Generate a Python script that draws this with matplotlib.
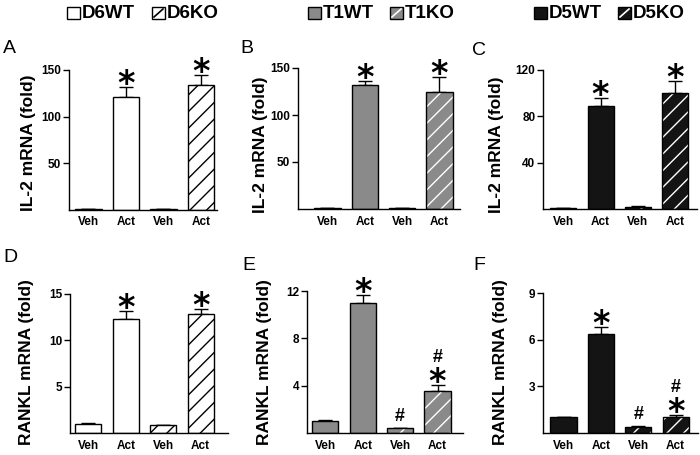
import numpy as np
import matplotlib
matplotlib.use('Agg')
import matplotlib.pyplot as plt
from matplotlib.patches import Rectangle
from matplotlib.lines import Line2D

plt.rcParams['font.family'] = ['Liberation Sans', 'DejaVu Sans']
plt.rcParams['hatch.linewidth'] = 1.0

W, H = 700, 455

conditions = ['Veh', 'Act', 'Veh', 'Act']

# IL-2 mRNA (fold)
il2_d6 = [0.8, 121, 0.9, 134]
il2_d6_err = [0.1, 11, 0.1, 11]
il2_t1 = [1.0, 132, 1.0, 124.5]
il2_t1_err = [0.1, 4.5, 0.1, 16]
il2_d5 = [1.0, 89, 2.0, 100.5]
il2_d5_err = [0.1, 7, 0.3, 10]

# RANKL mRNA (fold)
rankl_d6 = [1.0, 12.3, 0.85, 12.8]
rankl_d6_err = [0.1, 0.9, 0.05, 0.6]
rankl_t1 = [1.04, 11.0, 0.4, 3.52]
rankl_t1_err = [0.05, 0.65, 0.03, 0.55]
rankl_d5 = [1.0, 6.36, 0.4, 1.0]
rankl_d5_err = [0.05, 0.47, 0.03, 0.15]

# significance marks
marks_plain = ['', '*', '', '*']
marks_ko = ['', '*', '#', '#*']

legend_labels = [('D6WT', 'D6KO'), ('T1WT', 'T1KO'), ('D5WT', 'D5KO')]
strain_colors = ['white', '#8a8a8a', '#141414']
hatch_colors = ['black', 'white', 'white']

STAR_FS = 24
STAR_FONT = ['DejaVu Sans']

fig = plt.figure(figsize=(7, 4.55), dpi=100)


def px_rect(l, t, r, b):
    return [l / W, (H - b) / H, (r - l) / W, (b - t) / H]


def draw_panel(rect, xlim, vals, errs, marks, face, hcol, ylabel, ymax, ticks, lab_xy, letter, let_xy):
    ax = fig.add_axes(px_rect(*rect))
    x = np.arange(len(vals))
    wt = [0, 1]
    ko = [2, 3]
    ax.bar(x[wt], np.array(vals)[wt], width=0.7, color=face, edgecolor='black', linewidth=1, zorder=2)
    # hatched KO bars: hatch layer first, then black outline
    ax.bar(x[ko], np.array(vals)[ko], width=0.7, color=face, edgecolor=hcol, hatch='//', linewidth=0, zorder=2)
    ax.bar(x[ko], np.array(vals)[ko], width=0.7, color='none', edgecolor='black', linewidth=1, zorder=3)
    ax.errorbar(x, vals, yerr=[np.zeros(len(errs)), errs], fmt='none', ecolor='black',
                elinewidth=1, capsize=4.7, capthick=1, zorder=1)
    for xi, v, e, m in zip(x, vals, errs, marks):
        top = v + e
        if '*' in m:
            ax.annotate('*', xy=(xi, top), xytext=(0, 6 * 0.72 - 0.40 * STAR_FS), textcoords='offset points',
                        ha='center', va='baseline', fontsize=STAR_FS, fontweight='bold', family=STAR_FONT)
            if '#' in m:
                ax.annotate('#', xy=(xi, top), xytext=(0, 23 * 0.72), textcoords='offset points',
                            ha='center', va='baseline', fontsize=13, fontweight='bold')
        elif '#' in m:
            ax.annotate('#', xy=(xi, top), xytext=(0, 7 * 0.72), textcoords='offset points',
                        ha='center', va='baseline', fontsize=13, fontweight='bold')
    ax.set_xlim(*xlim)
    ax.set_ylim(0, ymax)
    ax.set_yticks(ticks)
    ax.set_yticklabels([str(t) for t in ticks], fontsize=8.5, fontweight='bold')
    ax.set_xticks(x)
    ax.set_xticklabels(conditions, fontsize=8.5, fontweight='bold')
    ax.tick_params(axis='x', length=0, pad=5)
    ax.tick_params(axis='y', length=4, width=1, pad=1.5)
    ax.spines['top'].set_visible(False)
    ax.spines['right'].set_visible(False)
    for s in ['left', 'bottom']:
        ax.spines[s].set_linewidth(1)
    fig.text(lab_xy[0] / W, 1 - lab_xy[1] / H, ylabel, rotation=90, ha='center', va='center',
             fontsize=12.5, fontweight='bold')
    fig.text(let_xy[0] / W, 1 - let_xy[1] / H, letter, ha='left', va='baseline', fontsize=14)
    return ax


il2_label = 'IL-2 mRNA (fold)'
rankl_label = 'RANKL mRNA (fold)'

draw_panel((69, 70, 217, 209.5), (-0.52, 3.43), il2_d6, il2_d6_err, marks_plain, strain_colors[0], hatch_colors[0],
           il2_label, 150, [50, 100, 150], (29, 143), 'A', (3, 53))
draw_panel((298, 68, 460, 209), (-0.79, 3.55), il2_t1, il2_t1_err, marks_plain, strain_colors[1], hatch_colors[1],
           il2_label, 150, [50, 100, 150], (261, 145), 'B', (240, 53))
draw_panel((543, 70, 697, 209), (-0.55, 3.60), il2_d5, il2_d5_err, marks_plain, strain_colors[2], hatch_colors[2],
           il2_label, 120, [40, 80, 120], (497, 145), 'C', (472, 55))
draw_panel((70, 294, 228, 433), (-0.49, 3.73), rankl_d6, rankl_d6_err, marks_plain, strain_colors[0], hatch_colors[0],
           rankl_label, 15, [5, 10, 15], (27, 362), 'D', (3, 262))
draw_panel((307, 291, 463, 433), (-0.49, 3.68), rankl_t1, rankl_t1_err, marks_ko, strain_colors[1], hatch_colors[1],
           rankl_label, 12, [4, 8, 12], (264, 362), 'E', (242, 270))
draw_panel((543, 293, 698, 433), (-0.55, 3.60), rankl_d5, rankl_d5_err, marks_ko, strain_colors[2], hatch_colors[2],
           rankl_label, 9, [3, 6, 9], (501, 362), 'F', (473, 270))

# legends along the top, drawn by hand
legend_boxes = [(67, 152), (308, 390), (534, 618)]
bw, bh, btop = 13, 12, 7
for (wt_lab, ko_lab), (bx1, bx2), face, hcol in zip(legend_labels, legend_boxes, strain_colors, hatch_colors):
    for bx, lab, hatched in [(bx1, wt_lab, False), (bx2, ko_lab, True)]:
        x0, y0 = bx / W, (H - btop - bh) / H
        fig.add_artist(Rectangle((x0, y0), bw / W, bh / H, transform=fig.transFigure,
                                 facecolor=face, edgecolor='none', linewidth=0))
        if hatched:
            fig.add_artist(Line2D([x0 + 2 / W, x0 + (bw - 2) / W], [y0 + 2 / H, y0 + (bh - 2) / H],
                                  transform=fig.transFigure, color=hcol, linewidth=1.2))
        fig.add_artist(Rectangle((x0, y0), bw / W, bh / H, transform=fig.transFigure,
                                 facecolor='none', edgecolor='black', linewidth=1))
        fig.text((bx + 15) / W, 1 - 13 / H, lab, ha='left', va='center', fontsize=13.5, fontweight='bold')

fig.savefig('out.png', dpi=100)
